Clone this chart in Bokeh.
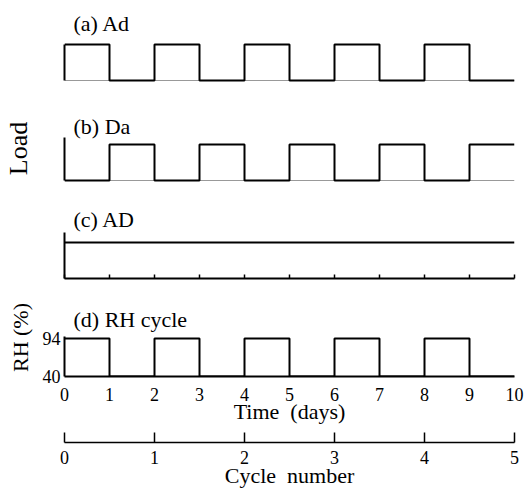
from bokeh.plotting import figure
from bokeh.layouts import column
from bokeh.models import Range1d, FixedTicker, Label, Span
from bokeh.embed import file_html
from bokeh.resources import INLINE

# ---------------- data ----------------
days = [0, 1, 2, 3, 4, 5, 6, 7, 8, 9, 10]
# load state during each day (1 = loaded, 0 = unloaded)
load_ad = [1, 0, 1, 0, 1, 0, 1, 0, 1, 0]
load_da = [0, 1, 0, 1, 0, 1, 0, 1, 0, 1]
load_AD = [1, 1, 1, 1, 1, 1, 1, 1, 1, 1]
# relative humidity during each day (%)
rh = [94, 40, 94, 40, 94, 40, 94, 40, 94, 40]
rh_ticks = [40, 94]
cycles = [0, 1, 2, 3, 4, 5]

panel_labels = ["(a) Ad", "(b) Da", "(c) AD", "(d) RH cycle"]

FONT = "Liberation Serif"
W = 525
LB = 64
RB = 11
PX = 36.0  # pixels per load unit


def steps(states):
    return states + [states[-1]]


def base_fig(height, yr, bottom=0, xr=None):
    p = figure(width=W, height=height, output_backend="svg", toolbar_location=None,
               x_range=xr if xr is not None else Range1d(0, 10), y_range=yr, title=None,
               min_border_left=LB, min_border_right=RB, min_border_top=0,
               min_border_bottom=bottom)
    p.outline_line_color = None
    p.xgrid.visible = False
    p.ygrid.visible = False
    p.background_fill_color = "white"
    p.border_fill_color = "white"
    return p


def plain_yaxis(p, bounds):
    ax = p.yaxis[0]
    ax.ticker = FixedTicker(ticks=[])
    ax.major_tick_in = 0
    ax.major_tick_out = 0
    ax.minor_tick_in = 0
    ax.minor_tick_out = 0
    ax.axis_line_width = 2
    ax.axis_line_color = "black"
    ax.bounds = bounds


def panel_label(p, text, y):
    p.add_layout(Label(x=0, y=y, x_offset=9, text=text, text_font=FONT,
                       text_font_size="22px", text_color="black",
                       text_align="left", text_baseline="alphabetic"))


def style_axis_text(ax):
    ax.major_label_text_font = FONT
    ax.major_label_text_font_size = "18px"
    ax.major_label_text_color = "black"
    ax.axis_label_text_font = FONT
    ax.axis_label_text_font_style = "normal"
    ax.axis_label_text_color = "black"


# ---------------- (a) ----------------
hA = 100
pa = base_fig(hA, Range1d(-(hA - 80) / PX, 1 + 44 / PX))
pa.xaxis.visible = False
plain_yaxis(pa, (0, 1))
pa.add_layout(Span(location=0, dimension="width", line_color="#999999", line_width=1,
                   level="underlay"))
pa.step(days, steps(load_ad), mode="after", line_color="black", line_width=2)
panel_label(pa, panel_labels[0], 1 + 21 / PX)

# ---------------- (b) ----------------
hB = 96
pb = base_fig(hB, Range1d(-(hB - 80) / PX, 1 + 44 / PX))
pb.xaxis.visible = False
plain_yaxis(pb, (0, 1.19))
yb = pb.yaxis[0]
style_axis_text(yb)
yb.axis_label = "Load"
yb.axis_label_text_font_size = "26px"
yb.axis_label_standoff = 32
pb.add_layout(Span(location=0, dimension="width", line_color="#999999", line_width=1,
                   level="underlay"))
pb.step(days, steps(load_da), mode="after", line_color="black", line_width=2)
panel_label(pb, panel_labels[1], 1 + 18 / PX)

# ---------------- (c) ----------------
hC = 102
bC = 20
pc = base_fig(hC, Range1d(0, (hC - bC) / PX), bottom=bC)
plain_yaxis(pc, (0, 1.28))
xc = pc.xaxis[0]
xc.ticker = FixedTicker(ticks=[], minor_ticks=days)
xc.major_tick_in = 0
xc.major_tick_out = 0
xc.minor_tick_in = 4
xc.minor_tick_out = 0
xc.minor_tick_line_width = 1.5
xc.minor_tick_line_color = "black"
xc.axis_line_width = 2
pc.step(days, steps(load_AD), mode="after", line_color="black", line_width=2)
panel_label(pc, panel_labels[2], 1 + 23 / PX)

# ---------------- (d) ----------------
hD = 130
bD = 52
RPX = 38.0 / 54.0
pd_ = base_fig(hD, Range1d(40, 94 + 40 / RPX), bottom=bD)
yd = pd_.yaxis[0]
style_axis_text(yd)
yd.ticker = FixedTicker(ticks=rh_ticks)
yd.major_tick_in = 0
yd.major_tick_out = 0
yd.minor_tick_in = 0
yd.minor_tick_out = 0
yd.major_label_standoff = 4
yd.axis_line_width = 2
yd.bounds = (40, 97)
yd.axis_label = "RH (%)"
yd.axis_label_text_font_size = "22px"
yd.axis_label_standoff = 7
xd = pd_.xaxis[0]
style_axis_text(xd)
xd.ticker = FixedTicker(ticks=days)
xd.major_tick_in = 0
xd.major_tick_out = 0
xd.minor_tick_in = 0
xd.minor_tick_out = 0
xd.major_label_standoff = 11
xd.axis_line_width = 2
xd.axis_label = "Time\u00a0 (days)"
xd.axis_label_text_font_size = "22px"
xd.axis_label_standoff = -5
pd_.step(days, steps(rh), mode="after", line_color="black", line_width=2)
panel_label(pd_, panel_labels[3], 94 + 19 / RPX)

# ---------------- cycle axis ----------------
hE = 62
bE = 47
pe = base_fig(hE, Range1d(0, 1), bottom=bE, xr=Range1d(0, 5))
pe.yaxis.visible = False
xe = pe.xaxis[0]
style_axis_text(xe)
xe.ticker = FixedTicker(ticks=cycles)
xe.major_tick_in = 10
xe.major_tick_out = 0
xe.minor_tick_in = 0
xe.minor_tick_out = 0
xe.major_tick_line_width = 1.5
xe.axis_line_width = 1.5
xe.major_label_standoff = 8
xe.axis_label = "Cycle\u00a0 number"
xe.axis_label_text_font_size = "22px"
xe.axis_label_standoff = -4
pe.scatter(cycles, [0.5] * len(cycles), alpha=0)

layout = column(pa, pb, pc, pd_, pe, spacing=0)
open("out.html", "w").write(file_html(layout, INLINE))
